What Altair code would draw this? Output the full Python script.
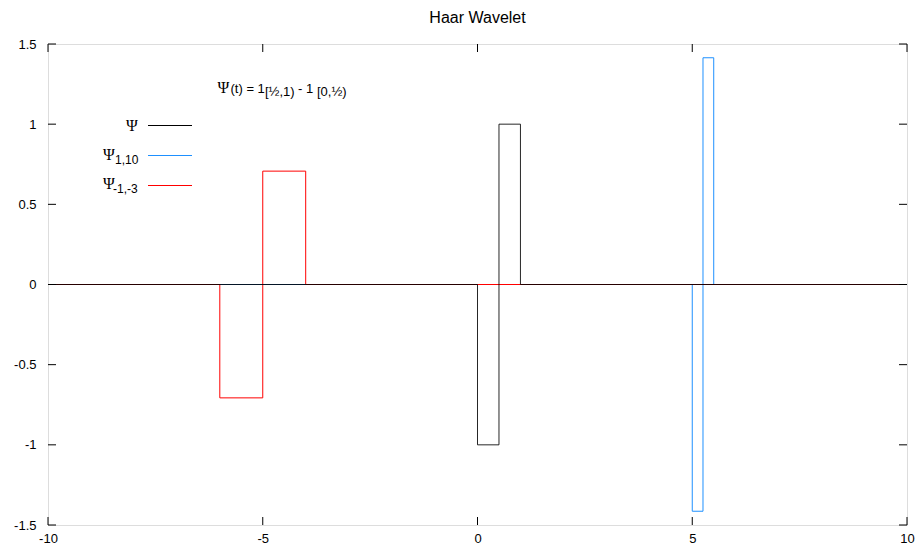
import altair as alt
import pandas as pd

# ---- data (step functions, value holds from t[i] to t[i+1]) ----
psi_t = [-10, 0, 0.5, 1, 10]
psi_v = [0, -1, 1, 0, 0]
psi_1_10_t = [-10, 5, 5.25, 5.5, 10]
psi_1_10_v = [0, -1.4142, 1.4142, 0, 0]
psi_m1_m3_t = [-10, -6, -5, -4, 10]
psi_m1_m3_v = [0, -0.7071, 0.7071, 0, 0]

series_names = ["Ψ", "Ψ1,10", "Ψ-1,-3"]
series_colors = ["#000000", "#1e90ff", "#ff0000"]
legend_syms = ["Ψ", "Ψ", "Ψ"]
legend_subs = ["", "1,10", "-1,-3"]

x_ticks = [-10, -5, 0, 5, 10]
y_ticks = [-1.5, -1, -0.5, 0, 0.5, 1, 1.5]

title_text = ["Haar Wavelet"]
formula_sym = ["Ψ"]
formula_parts = ["(t) = 1", "[½,1)", " - 1", "[0,½)"]

W, H = 859, 481
TICK = 8

xs = alt.Scale(domain=[-10, 10], nice=False, zero=False)
ys = alt.Scale(domain=[-1.5, 1.5], nice=False, zero=False)
cs = alt.Scale(domain=series_names, range=series_colors)

FONT = "Liberation Sans"
SERIF = "Liberation Serif"

x_axis = alt.Axis(values=x_ticks, labelExpr="'' + datum.value", grid=False, domain=False,
                  ticks=False, tickSize=0, labelFont=FONT, labelFontSize=13,
                  labelColor="#000000", labelPadding=7, labelFlush=False,
                  labelOverlap=False, title=None)
y_axis = alt.Axis(values=y_ticks, labelExpr="'' + datum.value", grid=False, domain=False,
                  ticks=False, tickSize=0, labelFont=FONT, labelFontSize=13,
                  labelColor="#000000", labelPadding=12, labelFlush=False,
                  labelOverlap=False, title=None)


def series_layer(t, v, name, opacity=1.0):
    df = pd.DataFrame({"t": t, "v": v, "i": list(range(len(t))), "name": [name] * len(t)})
    return alt.Chart(df).mark_line(
        interpolate="step-after", strokeWidth=1, opacity=opacity
    ).encode(
        x=alt.X("t:Q", scale=xs, axis=x_axis),
        y=alt.Y("v:Q", scale=ys, axis=y_axis),
        color=alt.Color("name:N", scale=cs, legend=None),
        order="i:Q",
    )


layers = []
layers.append(series_layer(psi_1_10_t, psi_1_10_v, series_names[1]))
layers.append(series_layer(psi_m1_m3_t, psi_m1_m3_v, series_names[2]))
layers.append(series_layer(psi_t, psi_v, series_names[0], 0.85))

# inward ticks
xt = pd.DataFrame({"x": x_ticks})
yt = pd.DataFrame({"y": y_ticks})
layers.append(alt.Chart(xt).mark_rule(color="#000000", strokeWidth=1).encode(
    x=alt.X("x:Q", scale=xs), y=alt.value(H), y2=alt.value(H - TICK)))
layers.append(alt.Chart(xt).mark_rule(color="#000000", strokeWidth=1).encode(
    x=alt.X("x:Q", scale=xs), y=alt.value(0), y2=alt.value(TICK)))
layers.append(alt.Chart(yt).mark_rule(color="#000000", strokeWidth=1).encode(
    y=alt.Y("y:Q", scale=ys), x=alt.value(0), x2=alt.value(TICK)))
layers.append(alt.Chart(yt).mark_rule(color="#000000", strokeWidth=1).encode(
    y=alt.Y("y:Q", scale=ys), x=alt.value(W), x2=alt.value(W - TICK)))

# legend (key)
key = pd.DataFrame({
    "name": series_names,
    "sym": legend_syms,
    "sub": legend_subs,
    "line_y": [81.5, 111.5, 141.5],
    "sym_x": [78, 55, 55],
    "sym_y": [87, 116, 145],
    "sub_x": [0, 67, 65],
    "sub_y": [0, 120, 149],
})
key_base = alt.Chart(key)
layers.append(key_base.mark_rule(strokeWidth=1).encode(
    x=alt.value(100), x2=alt.value(144),
    y=alt.Y("line_y:Q", scale=None),
    color=alt.Color("name:N", scale=cs, legend=None)))
layers.append(key_base.mark_text(font=SERIF, fontSize=16, align="left", baseline="alphabetic",
                                 color="#000000").encode(
    text="sym:N", x=alt.X("sym_x:Q", scale=None), y=alt.Y("sym_y:Q", scale=None)))
layers.append(key_base.mark_text(font=FONT, fontSize=12, align="left", baseline="alphabetic",
                                 color="#000000").encode(
    text="sub:N", x=alt.X("sub_x:Q", scale=None), y=alt.Y("sub_y:Q", scale=None)))

# formula label
fsym = pd.DataFrame({"s": formula_sym, "fx": [169.5], "fy": [49]})
layers.append(alt.Chart(fsym).mark_text(font=SERIF, fontSize=16, align="left", baseline="alphabetic",
                                        color="#000000").encode(
    text="s:N", x=alt.X("fx:Q", scale=None), y=alt.Y("fy:Q", scale=None)))
formula = pd.DataFrame({
    "s": formula_parts,
    "fx": [182.5, 217, 250, 269],
    "fy": [49, 52, 49, 52],
})
layers.append(alt.Chart(formula).mark_text(font=FONT, fontSize=13, align="left", baseline="alphabetic",
                                           color="#000000").encode(
    text="s:N", x=alt.X("fx:Q", scale=None), y=alt.Y("fy:Q", scale=None)))

# chart title
layers.append(alt.Chart(pd.DataFrame({"s": title_text})).mark_text(
    font=FONT, fontSize=16, align="center", baseline="middle", color="#000000"
).encode(text="s:N", x=alt.value(W / 2), y=alt.value(-26)))

chart = alt.layer(*layers).properties(
    width=W,
    height=H,
    autosize=alt.AutoSizeParams(type="none"),
    padding={"left": 40, "top": 36, "right": 9, "bottom": 21},
).configure_view(stroke="#000000", strokeWidth=1).configure(background="#ffffff")

chart.save("out.html", embed_options={"renderer": "svg", "actions": False})
